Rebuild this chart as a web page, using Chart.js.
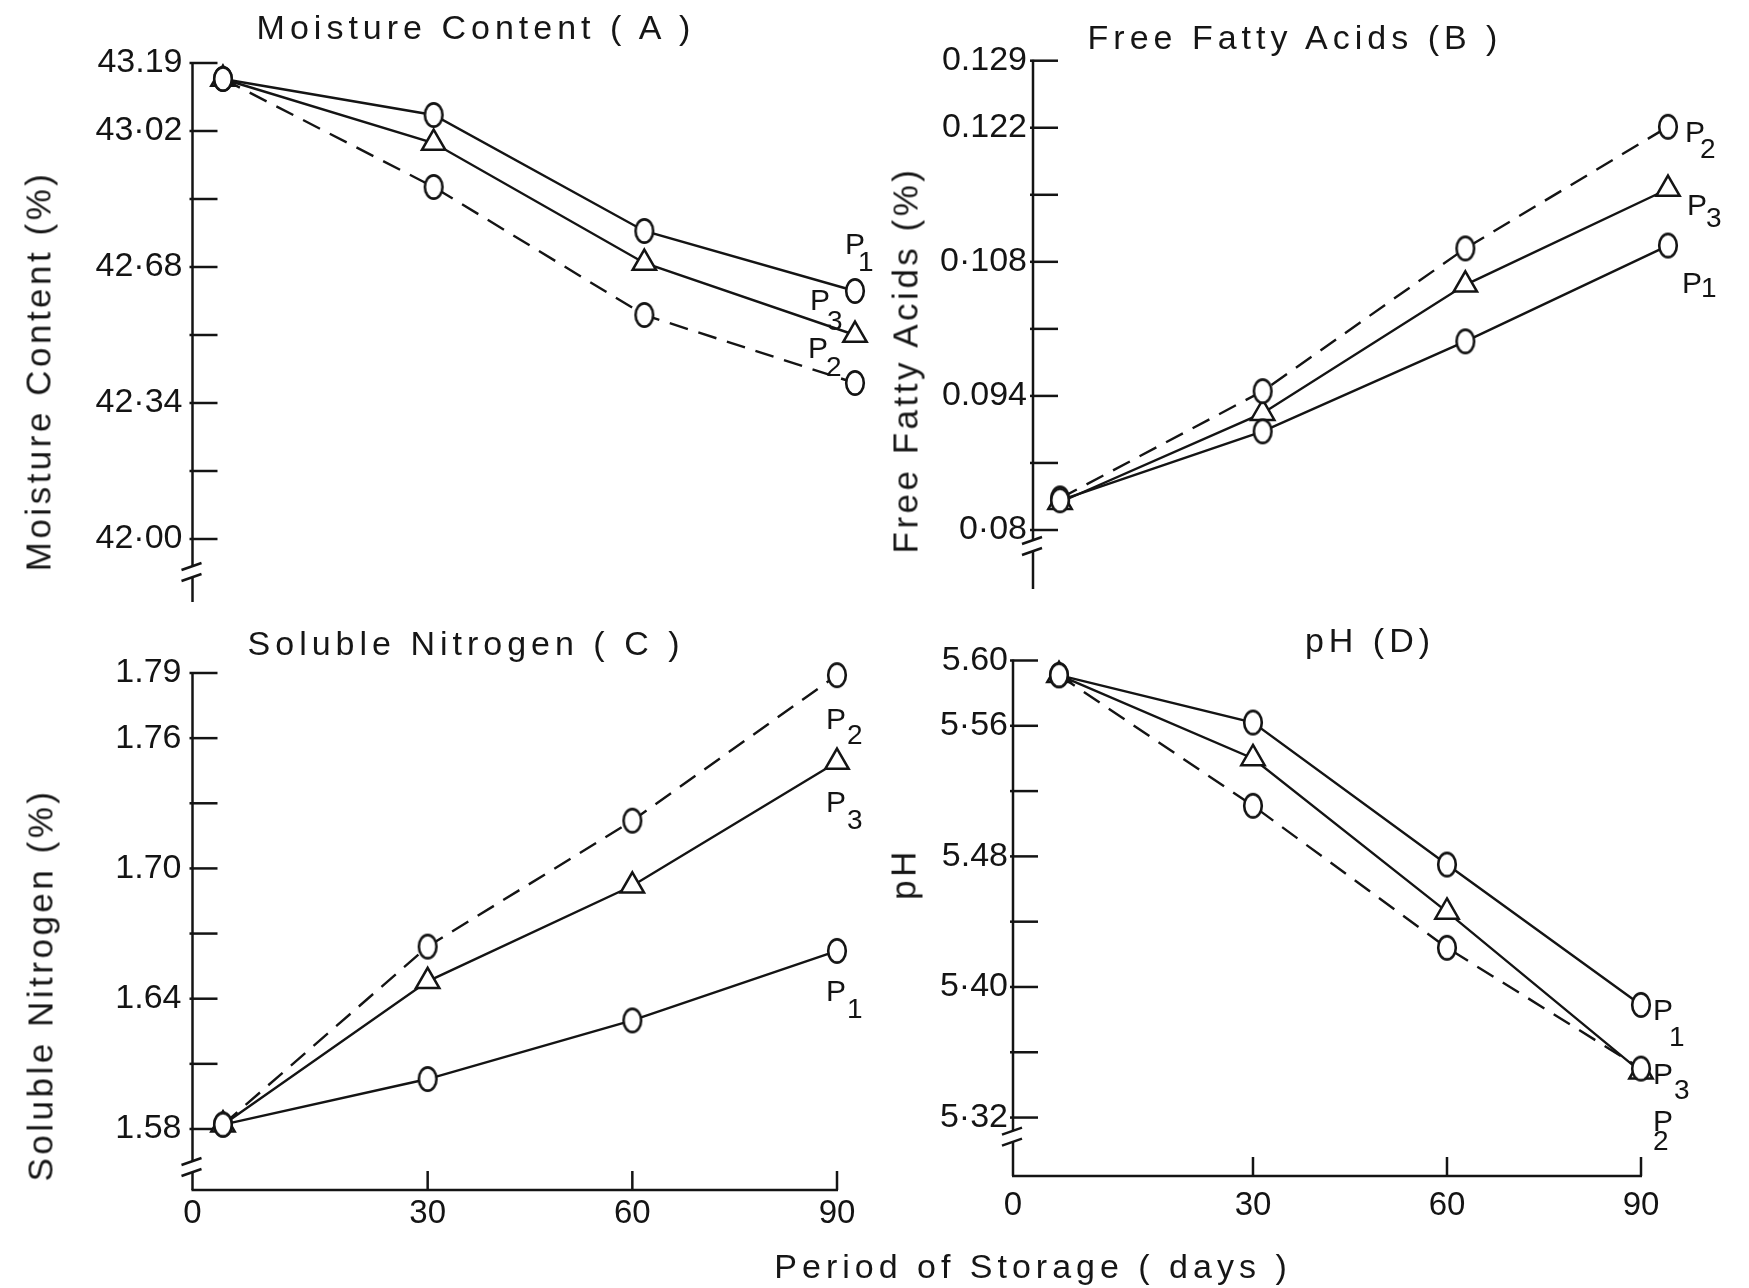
<!DOCTYPE html>
<html>
<head>
<meta charset="utf-8">
<title>Changes during storage</title>
<script src="https://cdn.jsdelivr.net/npm/chart.js@4.4.1/dist/chart.umd.min.js"></script>
<style>
  body { margin: 0; background: #fff; }
  #page { position: relative; width: 1749px; height: 1288px; overflow: hidden;
          font-family: "Liberation Sans", Arial, sans-serif; color: #161616; }
  canvas { position: absolute; left: 0; top: 0; }
  .t { position: absolute; white-space: nowrap; line-height: 1; transform: translate(-50%, -50%); }
  .title { font-size: 34px; letter-spacing: 5px; }
  .ytitle { font-size: 35px; letter-spacing: 3.5px; transform: translate(-50%, -50%) rotate(-90deg); }
</style>
</head>
<body>
<div id="page">
  <canvas id="chartA" width="1749" height="1288"></canvas>
  <canvas id="chartB" width="1749" height="1288"></canvas>
  <canvas id="chartC" width="1749" height="1288"></canvas>
  <canvas id="chartD" width="1749" height="1288"></canvas>

  <div class="t title" style="left:476px;top:27px">Moisture Content ( A )</div>
  <div class="t title" style="left:1295px;top:37px">Free Fatty Acids (B )</div>
  <div class="t title" style="left:466px;top:643px">Soluble Nitrogen ( C )</div>
  <div class="t title" style="left:1370px;top:640px">pH (D)</div>

  <div class="t ytitle" style="left:38px;top:371px">Moisture Content (%)</div>
  <div class="t ytitle" style="left:905px;top:360px">Free Fatty Acids (%)</div>
  <div class="t ytitle" style="left:40px;top:985px">Soluble Nitrogen (%)</div>
  <div class="t ytitle" style="left:903px;top:874px">pH</div>

  <div class="t title" style="left:1033px;top:1266px">Period of Storage ( days )</div>
</div>
<script>
// storage days + labels under the x axis
const days = [0, 30, 60, 90];
const dayTickLabels = ['0', '30', '60', '90'];

// (A) moisture content %
const moistureP1 = [43.15, 43.06, 42.77, 42.62];
const moistureP2 = [43.15, 42.88, 42.56, 42.39];
const moistureP3 = [43.15, 42.99, 42.69, 42.51];
const moistureTicks = [42.00, 42.17, 42.34, 42.51, 42.68, 42.85, 43.02, 43.19];
const moistureTickLabels = ['42·00', '', '42·34', '', '42·68', '', '43·02', '43.19'];

// (B) free fatty acids %
const ffaP1 = [0.0831, 0.0903, 0.0997, 0.1097];
const ffaP2 = [0.0833, 0.0945, 0.1094, 0.1221];
const ffaP3 = [0.0829, 0.0922, 0.1056, 0.1156];
const ffaTicks = [0.080, 0.087, 0.094, 0.101, 0.108, 0.115, 0.122, 0.129];
const ffaTickLabels = ['0·08', '', '0.094', '', '0·108', '', '0.122', '0.129'];

// (C) soluble nitrogen %
const snP1 = [1.582, 1.603, 1.630, 1.662];
const snP2 = [1.582, 1.664, 1.722, 1.789];
const snP3 = [1.582, 1.648, 1.692, 1.749];
const snTicks = [1.58, 1.61, 1.64, 1.67, 1.70, 1.73, 1.76, 1.79];
const snTickLabels = ['1.58', '', '1.64', '', '1.70', '', '1.76', '1.79'];

// (D) pH
const phP1 = [5.591, 5.562, 5.475, 5.389];
const phP2 = [5.591, 5.511, 5.424, 5.350];
const phP3 = [5.591, 5.540, 5.446, 5.348];
const phTicks = [5.32, 5.36, 5.40, 5.44, 5.48, 5.52, 5.56, 5.60];
const phTickLabels = ['5·32', '', '5·40', '', '5.48', '', '5·56', '5.60'];

const INK = '#141414';
const FONT = '"Liberation Sans", Arial, sans-serif';
const PAGE_W = 1749, PAGE_H = 1288;
const Y_AXIS_W = 130, X_AXIS_H = 60;

// the "O" symbol is a tall oval, not a round dot
function makeOval() {
  const c = document.createElement('canvas');
  c.width = 24; c.height = 30;
  const g = c.getContext('2d');
  g.beginPath();
  g.ellipse(12, 15, 8.8, 11.6, 0, 0, Math.PI * 2);
  g.fillStyle = '#fff';
  g.fill();
  g.lineWidth = 2.6;
  g.strokeStyle = INK;
  g.stroke();
  return c;
}
const oval = makeOval();

function makeDatasets(p1, p2, p3) {
  const pts = v => days.map((d, i) => ({ x: d, y: v[i] }));
  const base = {
    borderColor: INK, borderWidth: 2.4, tension: 0, clip: false,
    pointBackgroundColor: '#fff', pointBorderColor: INK, pointBorderWidth: 2.5, pointRadius: 13.5
  };
  return [
    { ...base, label: 'P1', data: pts(p1), pointStyle: oval },
    { ...base, label: 'P2', data: pts(p2), pointStyle: oval, borderDash: [19, 11] },
    { ...base, label: 'P3', data: pts(p3), pointStyle: 'triangle' }
  ];
}

// axis lines, inward ticks and the axis break
const sketchAxes = {
  id: 'sketchAxes',
  beforeDatasetsDraw(chart, args, o) {
    const { ctx, chartArea: a, scales: { x, y } } = chart;
    const seg = (x1, y1, x2, y2) => { ctx.beginPath(); ctx.moveTo(x1, y1); ctx.lineTo(x2, y2); ctx.stroke(); };
    ctx.save();
    ctx.strokeStyle = INK;
    ctx.lineWidth = 2.5;
    const L = a.left;
    const b1 = y.getPixelForValue(y.ticks[0].value) + o.breakOffset;
    const b2 = b1 + 11;
    seg(L, a.top - 1, L, b1);
    seg(L, b2, L, a.bottom);
    seg(L - 11, b1 + 4, L + 9, b1 - 3);
    seg(L - 11, b2 + 4, L + 9, b2 - 3);
    y.ticks.forEach(t => {
      const py = y.getPixelForValue(t.value);
      seg(L - 3, py, L + 25, py);
    });
    if (o.xAxis) {
      seg(L - 1, a.bottom, a.right + 1, a.bottom);
      x.ticks.slice(1).forEach(t => {
        const px = x.getPixelForValue(t.value);
        seg(px, a.bottom, px, a.bottom - 19);
      });
    }
    ctx.restore();
  }
};

// P1 / P2 / P3 names next to the last points
const endLabels = {
  id: 'endLabels',
  afterDatasetsDraw(chart, args, o) {
    const ctx = chart.ctx;
    ctx.save();
    ctx.fillStyle = INK;
    ctx.textAlign = 'left';
    ctx.textBaseline = 'alphabetic';
    o.items.forEach((it, i) => {
      const meta = chart.getDatasetMeta(i);
      const pt = meta.data[meta.data.length - 1];
      ctx.font = '30px ' + FONT;
      ctx.fillText('P', pt.x + it[0], pt.y + it[1]);
      ctx.font = '28px ' + FONT;
      ctx.fillText(String(i + 1), pt.x + it[0] + it[2], pt.y + it[1] + it[3]);
    });
    ctx.restore();
  }
};

function makePanel(id, p) {
  return new Chart(document.getElementById(id), {
    type: 'line',
    data: { datasets: makeDatasets(p.p1, p.p2, p.p3) },
    options: {
      responsive: false,
      animation: false,
      devicePixelRatio: 1,
      events: [],
      layout: {
        padding: {
          left: p.left - Y_AXIS_W,
          right: PAGE_W - p.right,
          top: p.top,
          bottom: PAGE_H - p.bottom - (p.xAxis ? X_AXIS_H : 0)
        }
      },
      scales: {
        x: {
          type: 'linear', min: p.xMin, max: 90, display: p.xAxis,
          afterBuildTicks: s => { s.ticks = [p.xMin, 30, 60, 90].map(v => ({ value: v })); },
          afterFit: s => { s.height = p.xAxis ? X_AXIS_H : 0; },
          grid: { display: false, drawTicks: false },
          border: { display: false },
          ticks: {
            autoSkip: false, maxRotation: 0, padding: p.xPad || 0, color: INK,
            font: { family: FONT, size: 33 },
            callback: (v, i) => dayTickLabels[i]
          }
        },
        y: {
          type: 'linear', min: p.yMin, max: p.yMax,
          afterBuildTicks: s => { s.ticks = p.yTicks.map(v => ({ value: v })); },
          afterFit: s => { s.width = Y_AXIS_W; },
          grid: { display: false, drawTicks: false },
          border: { display: false },
          ticks: {
            autoSkip: false, padding: p.yPad, color: INK,
            font: { family: FONT, size: 34 },
            callback: (v, i) => p.yLabels[i]
          }
        }
      },
      plugins: {
        legend: { display: false },
        tooltip: { enabled: false },
        title: { display: false },
        sketchAxes: { breakOffset: p.breakOffset, xAxis: p.xAxis },
        // [dx, dy, subscript dx, subscript dy] for P1, P2, P3
        endLabels: { items: p.labels }
      }
    },
    plugins: [sketchAxes, endLabels]
  });
}

makePanel('chartA', {
  p1: moistureP1, p2: moistureP2, p3: moistureP3,
  yTicks: moistureTicks, yLabels: moistureTickLabels,
  left: 192.5, right: 855, top: 63, bottom: 602,
  xMin: -4.34, yMin: 41.8425, yMax: 43.19, yPad: 10, breakOffset: 27, xAxis: false,
  labels: [[-10, -37, 13, 17], [-47, -25, 18, 18], [-45, -25, 17, 20]]
});

makePanel('chartB', {
  p1: ffaP1, p2: ffaP2, p3: ffaP3,
  yTicks: ffaTicks, yLabels: ffaTickLabels,
  left: 1033, right: 1668, top: 60.7, bottom: 589,
  xMin: -4.0, yMin: 0.07384, yMax: 0.129, yPad: 6, breakOffset: 10, xAxis: false,
  labels: [[14, 47, 19, 4], [17, 15, 15, 16], [19, 26, 19, 12]]
});

makePanel('chartC', {
  p1: snP1, p2: snP2, p3: snP3,
  yTicks: snTicks, yLabels: snTickLabels,
  left: 192.5, right: 837, top: 673, bottom: 1190,
  xMin: -4.47, yMin: 1.5519, yMax: 1.79, yPad: 11, breakOffset: 32, xAxis: true, xPad: 4,
  labels: [[-11, 50, 21, 17], [-11, 54, 21, 15], [-11, 50, 21, 17]]
});

makePanel('chartD', {
  p1: phP1, p2: phP2, p3: phP3,
  yTicks: phTicks, yLabels: phTickLabels,
  left: 1013, right: 1641, top: 660.5, bottom: 1176,
  xMin: -7.11, yMin: 5.2842, yMax: 5.60, yPad: 5, breakOffset: 13, xAxis: true, xPad: 10,
  labels: [[12, 15, 16, 26], [12, 62, 0, 19], [12, 12, 21, 15]]
});
</script>
</body>
</html>
